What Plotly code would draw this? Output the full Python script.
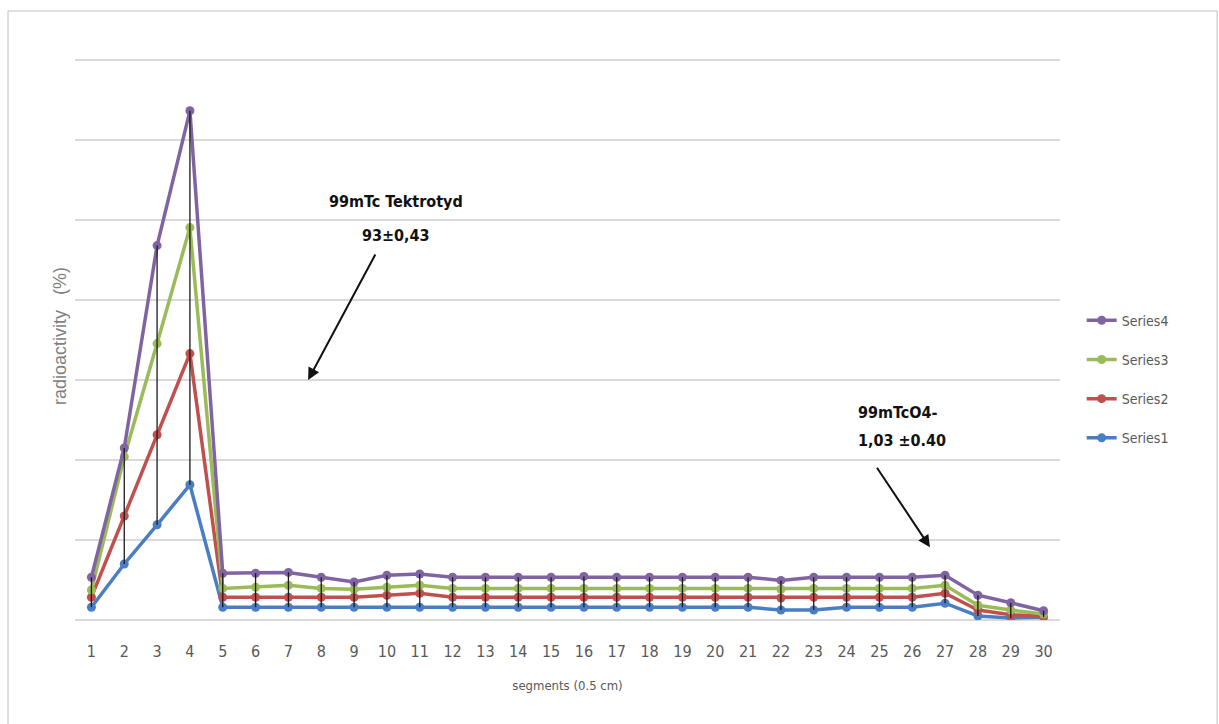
import numpy as np
import plotly.graph_objects as go

# Segment positions along the strip (0.5 cm each)
segments = list(range(1, 31))

# Radioactivity (%) per segment for each run, stacked in the chart
series1 = [1.6, 7.0, 11.9, 16.9, 1.6, 1.6, 1.6, 1.6, 1.6, 1.6, 1.6, 1.6, 1.6, 1.6, 1.6,
           1.6, 1.6, 1.6, 1.6, 1.6, 1.6, 1.25, 1.25, 1.6, 1.6, 1.6, 2.1, 0.5, 0.25, 0.35]
series2 = [1.25, 6.0, 11.25, 16.4, 1.25, 1.25, 1.25, 1.25, 1.25, 1.5, 1.75, 1.25, 1.25, 1.25, 1.25,
           1.25, 1.25, 1.25, 1.25, 1.25, 1.25, 1.5, 1.6, 1.25, 1.25, 1.25, 1.25, 0.75, 0.4, 0.15]
series3 = [0.9, 7.4, 11.4, 15.75, 1.1, 1.25, 1.5, 1.1, 1.0, 1.0, 1.0, 1.1, 1.1, 1.1, 1.1,
           1.1, 1.1, 1.1, 1.1, 1.1, 1.1, 1.1, 1.1, 1.1, 1.1, 1.1, 1.0, 0.6, 0.6, 0.25]
series4 = [1.6, 1.1, 12.25, 14.6, 1.9, 1.75, 1.6, 1.4, 0.9, 1.5, 1.4, 1.4, 1.4, 1.4, 1.4,
           1.5, 1.4, 1.4, 1.4, 1.4, 1.4, 1.1, 1.4, 1.4, 1.4, 1.4, 1.25, 1.25, 0.9, 0.4]

names = ["Series1", "Series2", "Series3", "Series4"]
colors = ["#4A7EC2", "#C0504D", "#9BBB59", "#8064A2"]

stacked = np.cumsum(np.array([series1, series2, series3, series4]), axis=0)

label_font = "DejaVu Sans Condensed, Arial Narrow, sans-serif"

fig = go.Figure()

for i, (name, color) in enumerate(zip(names, colors)):
    fig.add_trace(go.Scatter(
        x=segments, y=stacked[i], name=name, mode="lines+markers",
        line=dict(color=color, width=3.5),
        marker=dict(color=color, size=9),
        legendgroup=name, legendrank=10 - i,
    ))

# High-low lines joining the lowest and highest stacked values of each segment
hl_x, hl_y = [], []
for j, s in enumerate(segments):
    hl_x += [s, s, None]
    hl_y += [stacked[0, j], stacked[-1, j], None]
fig.add_trace(go.Scatter(x=hl_x, y=hl_y, mode="lines", showlegend=False,
                         line=dict(color="#1a1a1a", width=1.3), hoverinfo="skip"))

ann_font = dict(family=label_font, size=16, color="#111111")
fig.add_annotation(x=10.28, y=52.3, text="<b>99mTc Tektrotyd</b>", showarrow=False, font=ann_font)
fig.add_annotation(x=10.28, y=48.1, text="<b>93±0,43</b>", showarrow=False, font=ann_font)
fig.add_annotation(x=24.3, y=26.0, xanchor="left", text="<b>99mTcO4-</b>", showarrow=False, font=ann_font)
fig.add_annotation(x=24.3, y=22.5, xanchor="left", text="<b>1,03 ±0.40</b>", showarrow=False, font=ann_font)

# Arrows pointing at the two activity regions
fig.add_annotation(x=7.6, y=30, ax=68, ay=-127, text="", showarrow=True,
                   arrowhead=2, arrowsize=1.2, arrowwidth=2, arrowcolor="#111111")
fig.add_annotation(x=26.54, y=9.1, ax=-54, ay=-81, text="", showarrow=True,
                   arrowhead=2, arrowsize=1.2, arrowwidth=2, arrowcolor="#111111")

# Outer chart frame (plot area spans y 52..620 px, x 75..1060 px)
fig.add_shape(type="rect", xref="paper", yref="paper",
              x0=-0.068, x1=1.1595, y0=-0.195, y1=1.0722,
              line=dict(color="#BFBFBF", width=1), layer="below")

fig.update_layout(
    width=1219, height=724,
    margin=dict(l=75, r=159, t=52, b=104),
    paper_bgcolor="white", plot_bgcolor="white",
    showlegend=True,
    legend=dict(x=1.022, y=0.424, xanchor="left", yanchor="middle",
                traceorder="grouped", tracegroupgap=18,
                font=dict(family=label_font, size=14, color="#595959"),
                itemwidth=30),
    xaxis=dict(range=[0.5, 30.5], tickvals=segments, ticktext=[str(s) for s in segments],
               showgrid=False, zeroline=False, showline=False, ticks="",
               ticklabelstandoff=20,
               tickfont=dict(family=label_font, size=16, color="#595959"),
               title=dict(text="segments (0.5 cm)", standoff=20,
                          font=dict(family=label_font, size=13, color="#595959"))),
    yaxis=dict(range=[0, 71], dtick=10, showticklabels=False, ticks="",
               showgrid=True, gridcolor="#D9D9D9", gridwidth=2,
               zeroline=True, zerolinecolor="#D9D9D9", zerolinewidth=2, showline=False,
               title=dict(text="radioactivity\u00a0\u00a0\u00a0(%)", standoff=2,
                          font=dict(family="Liberation Sans, Arial, sans-serif", size=18, color="#7F7F7F"))),
)

fig.write_html("out.html")
